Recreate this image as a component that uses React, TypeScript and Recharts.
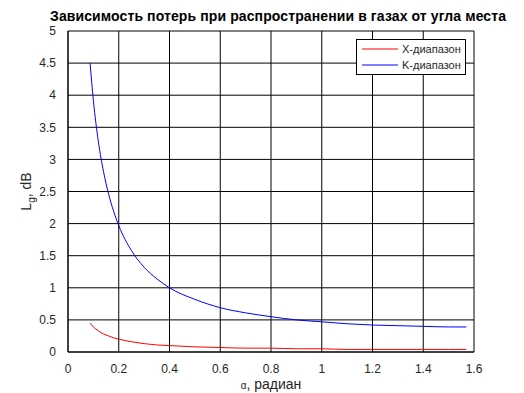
import React from 'react'
import { LineChart, Line, XAxis, YAxis, CartesianGrid, Label } from 'recharts'

// elevation angle, rad
const angles = [0.087, 0.1, 0.12, 0.14, 0.16, 0.18, 0.2, 0.25, 0.3, 0.35, 0.4, 0.5, 0.6, 0.7, 0.8, 0.9, 1.0, 1.1, 1.2, 1.3, 1.4, 1.5, 1.57]
// losses, dB
const lossX = [0.45, 0.39, 0.33, 0.28, 0.25, 0.22, 0.2, 0.16, 0.13, 0.11, 0.1, 0.08, 0.07, 0.06, 0.06, 0.05, 0.05, 0.04, 0.04, 0.04, 0.04, 0.04, 0.04]
const lossK = [4.5, 3.92, 3.27, 2.81, 2.46, 2.19, 1.97, 1.58, 1.32, 1.14, 1.0, 0.82, 0.69, 0.61, 0.55, 0.5, 0.47, 0.44, 0.42, 0.41, 0.4, 0.39, 0.39]

const xTicks = [0, 0.2, 0.4, 0.6, 0.8, 1, 1.2, 1.4, 1.6]
const yTicks = [0, 0.5, 1, 1.5, 2, 2.5, 3, 3.5, 4, 4.5, 5]

const seriesNames = ['X-диапазон', 'K-диапазон']
const seriesColors = ['#ff0000', '#0000ff']
const title = 'Зависимость потерь при распространении в газах от угла места'

const FONT = '"Liberation Sans", Arial, sans-serif'
const TXT = '#262626'

const data = angles.map((a, i) => ({ a, x: lossX[i], k: lossK[i] }))

function YLabel({ viewBox }: any) {
  const cx = 31
  const cy = viewBox ? viewBox.y + viewBox.height / 2 : 191
  return (
    <text x={cx} y={cy} transform={`rotate(-90 ${cx} ${cy})`} textAnchor="middle" fill={TXT} fontSize={14} fontFamily={FONT}>
      L<tspan fontSize={10} dy={4}>g</tspan><tspan dy={-4}>, dB</tspan>
    </text>
  )
}

function XLabel({ viewBox }: any) {
  const cx = viewBox ? viewBox.x + viewBox.width / 2 : 268
  return (
    <text x={cx} y={389} textAnchor="middle" fill={TXT} fontSize={14} fontFamily={FONT}>
      <tspan fontSize={10}>α</tspan>, радиан
    </text>
  )
}

export default function App() {
  return (
    <div style={{ position: 'absolute', left: 0, top: 0, width: 524, height: 393, background: '#fff' }}>
      <svg width={524} height={30} style={{ position: 'absolute', left: 0, top: 0 }}>
        <text x={50} y={21} textLength={456} lengthAdjust="spacing" fontFamily={FONT} fontWeight="bold" fontSize={14} fill="#000">
          {title}
        </text>
      </svg>
      <LineChart width={524} height={393} data={data} margin={{ top: 31, right: 50, left: 8, bottom: 11 }}>
        <CartesianGrid stroke="#000" strokeWidth={1} horizontalValues={yTicks} verticalValues={xTicks} />
        <XAxis dataKey="a" type="number" domain={[0, 1.6]} ticks={xTicks} height={30} axisLine={{ stroke: '#000' }}
          tickLine={false} tick={{ fill: TXT, fontSize: 12, fontFamily: FONT }} tickMargin={6} interval={0}>
          <Label content={<XLabel />} />
        </XAxis>
        <YAxis type="number" domain={[0, 5]} ticks={yTicks} width={60} axisLine={{ stroke: '#000' }}
          tickLine={false} tick={{ fill: TXT, fontSize: 12, fontFamily: FONT }} tickMargin={6} interval={0}>
          <Label content={<YLabel />} />
        </YAxis>
        <Line dataKey="x" stroke={seriesColors[0]} strokeWidth={1} dot={false} isAnimationActive={false} type="monotone" />
        <Line dataKey="k" stroke={seriesColors[1]} strokeWidth={1} dot={false} isAnimationActive={false} type="monotone" />
      </LineChart>
      <div style={{ position: 'absolute', left: 356, top: 39, width: 108, height: 34, border: '1px solid #000', background: '#fff', fontFamily: FONT, fontSize: 11, color: TXT }}>
        {seriesNames.map((n, i) => (
          <div key={n} style={{ display: 'flex', alignItems: 'center', height: 16, marginTop: i === 0 ? 1 : 0 }}>
            <svg width={36} height={4} style={{ marginLeft: 5, marginRight: 4 }}>
              <line x1={0} y1={2} x2={36} y2={2} stroke={seriesColors[i]} strokeWidth={1} />
            </svg>
            <span>{n}</span>
          </div>
        ))}
      </div>
    </div>
  )
}
